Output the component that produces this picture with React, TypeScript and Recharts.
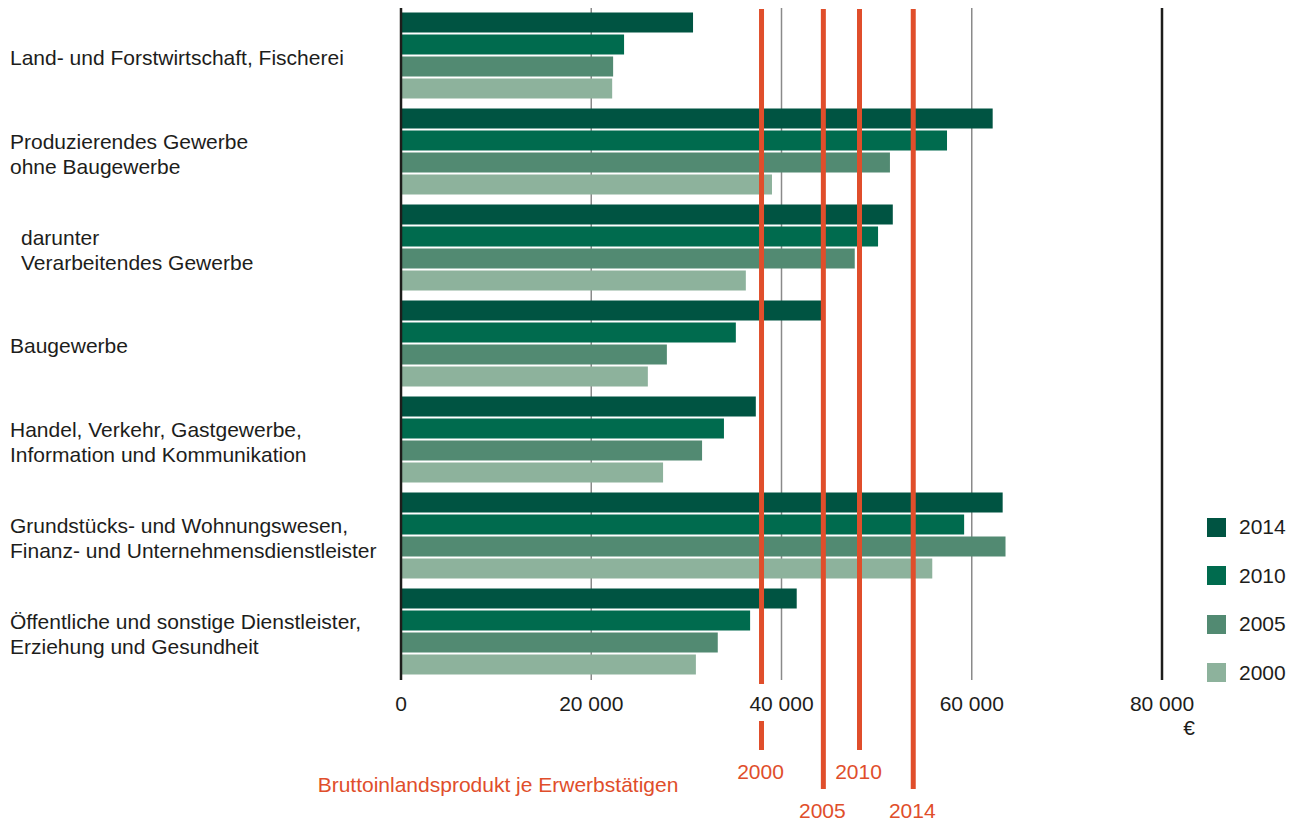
import { Bar, BarChart, CartesianGrid, Legend, ReferenceLine, XAxis, YAxis } from 'recharts'

const categories = [
  'Land- und Forstwirtschaft, Fischerei',
  'Produzierendes Gewerbe\nohne Baugewerbe',
  'darunter\nVerarbeitendes Gewerbe',
  'Baugewerbe',
  'Handel, Verkehr, Gastgewerbe,\nInformation und Kommunikation',
  'Grundstücks- und Wohnungswesen,\nFinanz- und Unternehmensdienstleister',
  'Öffentliche und sonstige Dienstleister,\nErziehung und Gesundheit',
]
const indented = [false, false, true, false, false, false, false]

const v2014 = [30700, 62200, 51700, 44250, 37300, 63250, 41600]
const v2010 = [23450, 57400, 50150, 35200, 33950, 59200, 36700]
const v2005 = [22300, 51400, 47700, 27950, 31650, 63550, 33300]
const v2000 = [22200, 39000, 36250, 25950, 27550, 55850, 31000]

const xTicks = [0, 20000, 40000, 60000, 80000]
const legendOrder = ['2014', '2010', '2005', '2000']

// Bruttoinlandsprodukt je Erwerbstätigen
const bipYears = ['2000', '2005', '2010', '2014']
const bipValues = [37900, 44400, 48200, 53850]

const FONT = '"Liberation Sans", Arial, Helvetica, sans-serif'
const FS = 21
const INK = '#1d1d1b'
const RED = '#e04e2b'
const COLORS = { y2014: '#005442', y2010: '#006b4e', y2005: '#528a72', y2000: '#8db29c' }

const data = categories.map((name, i) => ({
  name,
  y2014: v2014[i],
  y2010: v2010[i],
  y2005: v2005[i],
  y2000: v2000[i],
}))

const fmt = (v: number) => String(v).replace(/\B(?=(\d{3})+(?!\d))/g, ' ')

function CategoryTick({ y, payload }: any) {
  const i = categories.indexOf(payload.value)
  const lines = String(payload.value).split('\n')
  const x0 = indented[i] ? 21 : 10
  const start = 2 - ((lines.length - 1) * 25) / 2
  return (
    <text x={x0} y={y} fontSize={FS} fill={INK} fontFamily={FONT} textAnchor="start">
      {lines.map((l, k) => (
        <tspan key={k} x={x0} y={y + start + k * 25} dy="0.35em">
          {l}
        </tspan>
      ))}
    </text>
  )
}

function ValueTick({ x, y, payload }: any) {
  const v = payload.value as number
  return (
    <g fontFamily={FONT} fontSize={FS} fill={INK}>
      <text x={x} y={y + 24} dy="0.35em" textAnchor="middle">
        {fmt(v)}
      </text>
      {v === 80000 && (
        <text x={x + 33} y={y + 48} dy="0.35em" textAnchor="end">
          €
        </text>
      )}
    </g>
  )
}

function bipShape(k: number) {
  return (p: any) => {
    const top = Math.min(p.y1, p.y2)
    const bottom = Math.max(p.y1, p.y2)
    const x = p.x1
    const end = bottom + (k % 2 === 1 ? 109 : 70)
    const segs = k === 0 ? [[top + 1, bottom + 4], [bottom + 41, end]] : [[top + 1, end]]
    return (
      <g>
        {segs.map((s, j) => (
          <line key={j} x1={x} x2={x} y1={s[0]} y2={s[1]} stroke={RED} strokeWidth={5} />
        ))}
        <text x={x - 1} y={end + 22} dy="0.35em" textAnchor="middle" fill={RED} fontSize={FS} fontFamily={FONT}>
          {bipYears[k]}
        </text>
      </g>
    )
  }
}

function LegendContent({ payload }: any) {
  const items = [...(payload || [])].sort(
    (a: any, b: any) => legendOrder.indexOf(String(a.value)) - legendOrder.indexOf(String(b.value)),
  )
  return (
    <div style={{ fontFamily: FONT, fontSize: FS, color: INK }}>
      {items.map((e: any) => (
        <div key={e.value} style={{ display: 'flex', alignItems: 'center', height: 48.5 }}>
          <span style={{ width: 19, height: 19, background: e.color, display: 'inline-block', marginRight: 13 }} />
          <span>{e.value}</span>
        </div>
      ))}
    </div>
  )
}

export default function App() {
  return (
    <div style={{ position: 'absolute', left: 0, top: 0, width: 1299, height: 823, background: '#fff' }}>
      <BarChart
        width={1299}
        height={823}
        data={data}
        layout="vertical"
        margin={{ top: 8, right: 137, bottom: 113, left: 0 }}
        barCategoryGap={4.5}
        barGap={2}
      >
        <CartesianGrid horizontal={false} stroke="#8a8a8a" strokeWidth={1.5} />
        <XAxis
          type="number"
          domain={[0, 80000]}
          ticks={xTicks}
          height={30}
          axisLine={false}
          tickLine={false}
          tickSize={0}
          tickMargin={0}
          tick={<ValueTick />}
          interval={0}
        />
        <YAxis
          type="category"
          dataKey="name"
          width={401}
          axisLine={{ stroke: INK, strokeWidth: 2.5 }}
          tickLine={false}
          tick={<CategoryTick />}
          interval={0}
        />
        <Bar dataKey="y2014" name="2014" fill={COLORS.y2014} isAnimationActive={false} />
        <Bar dataKey="y2010" name="2010" fill={COLORS.y2010} isAnimationActive={false} />
        <Bar dataKey="y2005" name="2005" fill={COLORS.y2005} isAnimationActive={false} />
        <Bar dataKey="y2000" name="2000" fill={COLORS.y2000} isAnimationActive={false} />
        <ReferenceLine x={80000} stroke={INK} strokeWidth={2.5} />
        {bipValues.map((v, k) => (
          <ReferenceLine key={bipYears[k]} x={v} shape={bipShape(k)} />
        ))}
        <Legend
          layout="vertical"
          align="center"
          verticalAlign="middle"
          content={<LegendContent />}
          wrapperStyle={{ left: 1207, top: 503, width: 90 }}
        />
      </BarChart>
      <div
        style={{
          position: 'absolute',
          left: 298,
          width: 400,
          top: 773,
          textAlign: 'center',
          fontFamily: FONT,
          fontSize: FS,
          color: RED,
          whiteSpace: 'nowrap',
        }}
      >
        Bruttoinlandsprodukt je Erwerbstätigen
      </div>
    </div>
  )
}
